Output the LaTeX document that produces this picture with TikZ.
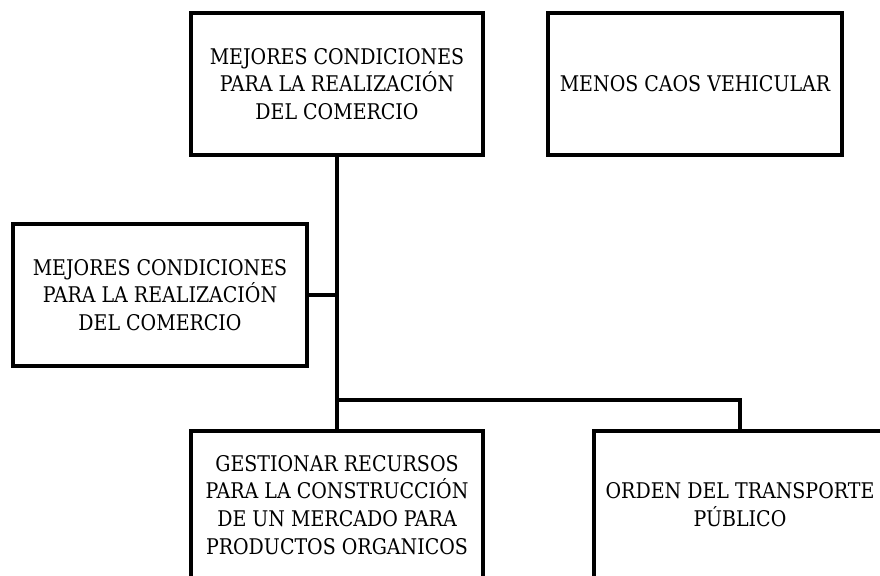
\documentclass[tikz,border=0pt]{standalone}
\usepackage{fontspec}
\setmainfont[FakeStretch=0.88]{DejaVu Serif}
\begin{document}
\begin{tikzpicture}[x=0.5pt,y=-0.5pt,
  box/.style={draw=black,line width=2pt,inner sep=0pt,align=center,
    font=\fontsize{10.8}{13.9}\selectfont,text=black},
  link/.style={draw=black,line width=2pt}]
\useasboundingbox (0,0) rectangle (880,575);
\clip (0,0) rectangle (880,575);
\node[box,minimum width=145.75pt,minimum height=71.25pt] (t1) at (337,84)
  {MEJORES CONDICIONES\\PARA LA REALIZACIÓN\\DEL COMERCIO};
\node[box,minimum width=147pt,minimum height=71.25pt] (t2) at (695,84)
  {MENOS CAOS VEHICULAR};
\node[box,minimum width=146.75pt,minimum height=70.75pt] (l1) at (160,295)
  {MEJORES CONDICIONES\\PARA LA REALIZACIÓN\\DEL COMERCIO};
\node[box,minimum width=146.25pt,minimum height=74pt] (b1) at (337,505)
  {GESTIONAR RECURSOS\\PARA LA CONSTRUCCIÓN\\DE UN MERCADO PARA\\PRODUCTOS ORGANICOS};
\node[box,minimum width=146pt,minimum height=74pt] (b2) at (740,505)
  {ORDEN DEL TRANSPORTE\\PÚBLICO};
\coordinate (j) at (337,400);
\draw[link] (t1.south) -- (b1.north);
\draw[link] (l1.east) -- (l1.east -| t1.south);
\draw[link] (j) -| (b2.north);
\end{tikzpicture}
\end{document}
